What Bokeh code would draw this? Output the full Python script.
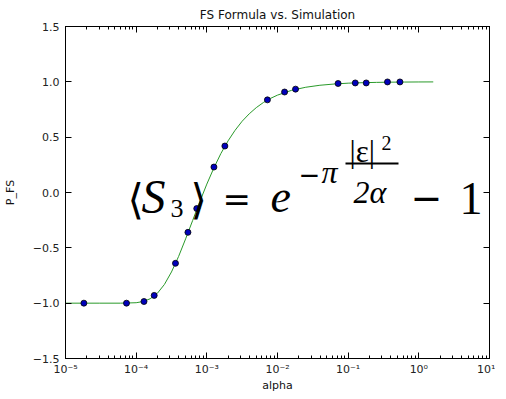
from bokeh.plotting import figure
from bokeh.models import (LogAxis, LinearAxis, FixedTicker, LogTicker,
                          CustomJSTickFormatter, Label, BoxAnnotation, Range1d)
from bokeh.embed import file_html
from bokeh.resources import INLINE

# ---- data ----
alpha_sim = [1.82e-5, 7.3e-5, 1.29e-4, 1.8e-4, 3.6e-4, 5.4e-4, 7.2e-4,
             1.26e-3, 1.8e-3, 7.2e-3, 1.26e-2, 1.8e-2, 7.2e-2, 0.126,
             0.18, 0.36, 0.54]
p_sim = [-1.0, -1.0, -0.985, -0.93, -0.64, -0.36, -0.145, 0.23, 0.42,
         0.837, 0.908, 0.934, 0.985, 0.99, 0.99, 0.999, 0.999]

alpha_curve = [1e-5, 3e-5, 6e-5, 1e-4, 1.26e-4, 1.58e-4, 2e-4, 2.51e-4,
               3.16e-4, 3.98e-4, 5.01e-4, 6.31e-4, 7.94e-4, 1e-3, 1.26e-3,
               1.58e-3, 2e-3, 2.51e-3, 3.16e-3, 3.98e-3, 5.01e-3, 6.31e-3,
               7.94e-3, 1e-2, 1.58e-2, 2.51e-2, 3.98e-2, 6.31e-2, 0.1,
               0.158, 0.251, 0.398, 0.631, 1.0, 1.6]
p_curve = [-1.0, -1.0, -1.0, -0.996, -0.985, -0.960, -0.910, -0.831,
           -0.718, -0.579, -0.419, -0.252, -0.084, 0.076, 0.223, 0.352,
           0.467, 0.562, 0.644, 0.711, 0.767, 0.813, 0.850, 0.880, 0.923,
           0.951, 0.969, 0.980, 0.988, 0.992, 0.995, 0.997, 0.998, 0.9988,
           0.9992]

y_ticks = [-1.5, -1.0, -0.5, 0.0, 0.5, 1.0, 1.5]
title = "FS Formula vs. Simulation"
x_label = "alpha"
y_label = "P_FS"

# ---- figure ----
FW, FH = 424, 332
p = figure(frame_width=FW, frame_height=FH, x_axis_type="log",
           x_range=Range1d(1e-5, 1e1), y_range=Range1d(-1.5, 1.5),
           output_backend="svg", toolbar_location=None, title=title,
           min_border_left=58, min_border_right=6, min_border_top=18,
           min_border_bottom=28)
p.background_fill_color = "white"
p.border_fill_color = "white"
p.outline_line_color = "black"
p.outline_line_width = 1
p.xgrid.visible = False
p.ygrid.visible = False

p.title.align = "center"
p.title.text_font = "DejaVu Sans"
p.title.text_font_size = "12px"
p.title.text_font_style = "normal"
p.title.text_color = "#111111"
p.title.standoff = 10

log_fmt = CustomJSTickFormatter(code="""
const e = Math.round(Math.log10(tick));
const sup = {'-':'\u207b','0':'\u2070','1':'\u00b9','2':'\u00b2','3':'\u00b3',
             '4':'\u2074','5':'\u2075','6':'\u2076','7':'\u2077','8':'\u2078','9':'\u2079'};
return '10' + String(e).split('').map(c => sup[c]).join('');
""")
lin_fmt = CustomJSTickFormatter(code="return tick.toFixed(1).replace('-', '\u2212');")
blank_fmt = CustomJSTickFormatter(code="return '';")

def style_axis(ax, labels=True):
    ax.axis_line_color = "black"
    ax.major_tick_line_color = "black"
    ax.minor_tick_line_color = "black"
    ax.major_tick_in = 6
    ax.major_tick_out = 0
    ax.minor_tick_in = 3
    ax.minor_tick_out = 0
    ax.major_label_text_font = "DejaVu Sans"
    ax.major_label_text_font_size = "11px"
    ax.major_label_text_color = "#222222"
    ax.major_label_standoff = 4 if labels else 0
    ax.axis_label_text_font = "DejaVu Sans"
    ax.axis_label_text_font_size = "11px"
    ax.axis_label_text_font_style = "normal"
    ax.axis_label_text_color = "#111111"

xb = p.xaxis[0]
xb.ticker = LogTicker(num_minor_ticks=10)
xb.formatter = log_fmt
xb.axis_label = x_label
style_axis(xb)
xb.axis_label_standoff = 0

yl = p.yaxis[0]
yl.ticker = FixedTicker(ticks=y_ticks)
yl.formatter = lin_fmt
yl.axis_label = y_label
style_axis(yl)
yl.minor_tick_in = 0
yl.major_label_standoff = 6
yl.axis_label_standoff = 13

xt = LogAxis(ticker=LogTicker(num_minor_ticks=10), formatter=blank_fmt)
style_axis(xt, labels=False)
p.add_layout(xt, "above")

yr = LinearAxis(ticker=FixedTicker(ticks=y_ticks), formatter=blank_fmt)
style_axis(yr, labels=False)
yr.minor_tick_in = 0
p.add_layout(yr, "right")

# ---- curve and points ----
p.line(alpha_curve, p_curve, line_color="#2a9a2a", line_width=1)
p.scatter(alpha_sim, p_sim, size=6, fill_color="#0000bb",
          line_color="black", line_width=0.8)

# ---- formula annotation (page pixel positions -> data of this frame) ----
FRAME_LEFT, FRAME_TOP = 66, 25
def px(xp, yp):
    return (10 ** (-5 + (xp - FRAME_LEFT) / (FW / 6.0)),
            1.5 - (yp - FRAME_TOP) / (FH / 3.0))

SERIF = "Liberation Serif"
SANS = "DejaVu Sans"

def lab(text, xp, yp, size, italic=False, font=SERIF):
    x, y = px(xp, yp)
    p.add_layout(Label(x=x, y=y, text=text, text_font=font,
                       text_font_size=f"{size}px",
                       text_font_style="italic" if italic else "normal",
                       text_color="black", text_baseline="alphabetic",
                       text_align="left"))

lab("\u27e8", 128, 198, 42, font=SANS)
lab("S", 142, 195, 48, italic=True)
lab("3", 171, 207, 26)
lab("\u27e9", 191, 198, 42, font=SANS)
lab("=", 223, 197, 34, font=SANS)
lab("e", 271, 195, 46, italic=True)
lab("\u2212", 299, 172, 26, font=SANS)
lab("\u03c0", 322, 170, 32, italic=True)
lab("|\u03b5|", 350, 150, 31)
lab("2", 382, 141, 20)
lab("2\u03b1", 354, 190, 32, italic=True)
lab("\u2212", 411, 196, 38, font=SANS)
lab("1", 460, 197, 46)
bl, bb = px(346, 163)
br, bt = px(399, 161)
p.add_layout(BoxAnnotation(left=bl, right=br, bottom=bb, top=bt,
                           fill_color="black", fill_alpha=1.0,
                           line_alpha=0))

open("out.html", "w").write(file_html(p, INLINE))
